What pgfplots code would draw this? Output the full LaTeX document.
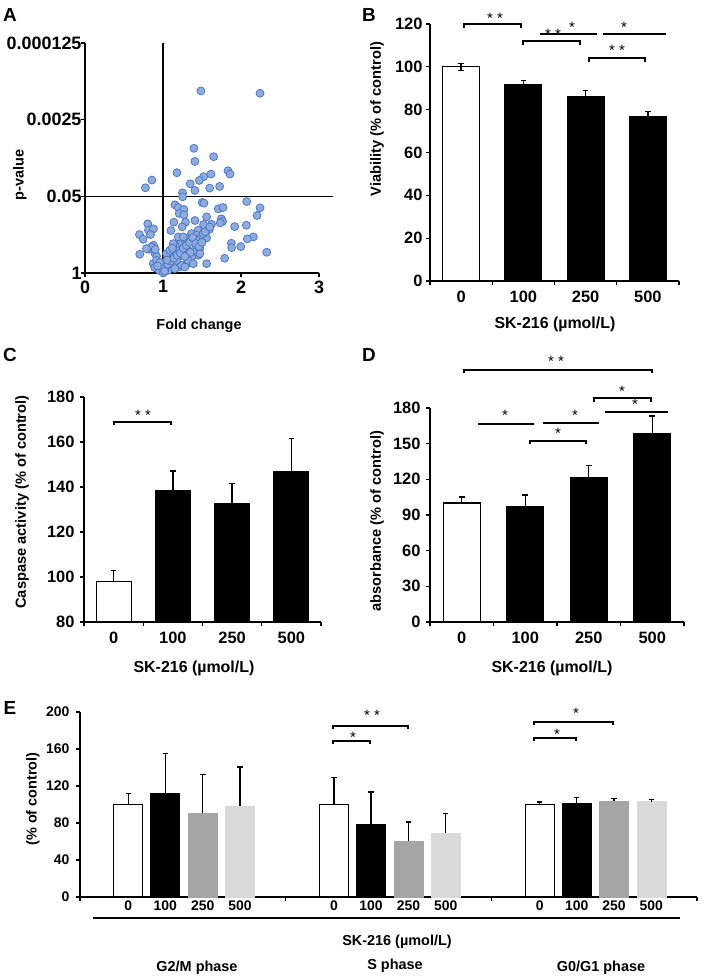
\documentclass[border=0pt]{standalone}
\usepackage{pgfplots}
\pgfplotsset{compat=1.18}
\usepackage{fontspec}
\setmainfont{Liberation Sans}
\definecolor{ptfill}{HTML}{8FAADC}
\definecolor{ptedge}{HTML}{4472C4}
\definecolor{midgray}{HTML}{A5A5A5}
\definecolor{ltgray}{HTML}{D9D9D9}
\newcommand{\fs}[1]{\fontsize{#1}{#1}\selectfont\bfseries}
\pgfplotsset{
 myax/.style={scale only axis, anchor=south west, axis x line*=bottom, axis y line*=left,
   axis line style={line width=1.2bp,-}, tick align=outside,
   tick style={black, line width=1.2bp}, major tick length=4bp,
   tick label style={font=\fs{16.5}}, /pgf/number format/assume math mode=true},
 wb/.style={ybar, bar shift=0pt, fill=white, draw=black, line width=1.2bp},
 bb/.style={ybar, bar shift=0pt, fill=black, draw=black, line width=1.2bp},
 gb/.style={ybar, bar shift=0pt, fill=midgray, draw=midgray, line width=0.4bp},
 lb/.style={ybar, bar shift=0pt, fill=ltgray, draw=ltgray, line width=0.4bp},
 eb/.style={error bars/.cd, y dir=#1, y explicit,
   error bar style={draw=black, line width=1.3bp},
   error mark options={rotate=90, draw=black, line width=1.3bp, mark size=2.8bp}},
}
\newcommand{\brk}[4]{\draw (#1,#3+#4) -- (#1,#3) -- (#2,#3) -- (#2,#3+#4);}
\newcommand{\st}[3]{\node[anchor=base, inner sep=0pt, font=\fontsize{15}{15}\selectfont] at (#1,#2+8.6) {#3};}
\begin{document}
\begin{tikzpicture}
\useasboundingbox (0,0) rectangle (709bp,-979bp);

% ---------------- A ----------------
\begin{axis}[myax, at={(85bp,-273bp)}, width=234bp, height=230bp,
  xmin=0, xmax=3, ymin=0, ymax=3.90309, clip=false,
  xtick={0,1,2,3}, ytick={0,1.30103,2.60206,3.90309},
  yticklabels={1,0.05,0.0025,0.000125},
  tick label style={font=\fs{18}}, yticklabel style={xshift=4bp}]
\addplot[only marks, mark=*, mark size=4bp, mark options={fill=ptfill, draw=ptedge, line width=0.7bp}] table {
x y
1.486 3.09
2.244 3.05
1.396 2.116
1.409 1.894
1.649 1.974
1.178 1.702
1.833 1.736
1.859 1.679
1.615 1.679
1.520 1.634
1.465 1.571
1.349 1.514
0.857 1.577
0.775 1.446
1.598 1.441
1.726 1.469
1.409 1.401
1.251 1.361
1.251 1.293
1.503 1.197
1.525 1.185
2.073 1.214
1.152 1.157
1.195 1.112
1.268 1.078
1.709 1.089
1.769 1.112
2.244 1.106
1.208 1.010
1.268 0.987
1.559 0.953
1.747 0.919
1.409 0.891
2.206 0.976
0.805 0.834
1.139 0.862
1.289 0.862
1.764 0.874
1.734 0.851
1.623 0.828
1.520 0.822
1.919 0.788
2.069 0.811
0.698 0.652
0.814 0.726
0.878 0.749
1.101 0.720
1.246 0.783
1.452 0.726
1.593 0.737
0.839 0.652
0.745 0.573
1.559 0.596
2.158 0.613
2.081 0.579
1.876 0.505
1.880 0.431
1.997 0.448
2.330 0.352
1.790 0.250
1.559 0.159
0.702 0.318
0.814 0.403
0.878 0.471
0.895 0.340
0.917 0.284
0.874 0.159
0.895 0.091
0.951 0.045
1.002 0.0
1.045 0.102
1.088 0.159
1.066 0.244
1.109 0.272
1.131 0.329
1.152 0.386
1.173 0.442
1.216 0.471
1.238 0.528
1.281 0.556
1.302 0.584
1.345 0.613
1.366 0.669
1.388 0.556
1.430 0.442
1.452 0.301
1.302 0.159
1.216 0.102
1.238 0.130
1.131 0.130
1.066 0.045
1.024 0.074
1.259 0.329
1.323 0.386
1.409 0.357
1.473 0.414
1.366 0.272
1.195 0.272
1.045 0.329
1.173 0.216
1.323 0.216
1.131 0.499
1.195 0.613
1.259 0.613
1.430 0.641
1.473 0.584
1.516 0.669
1.430 0.556
1.216 0.386
1.088 0.386
0.981 0.102
0.917 0.216
0.852 0.442
0.788 0.414
1.388 0.159
1.473 0.329
1.281 0.102
1.152 0.074
1.02 0.03
1.06 0.15
1.10 0.20
1.14 0.25
1.18 0.30
1.22 0.34
1.26 0.42
1.30 0.47
1.34 0.52
1.38 0.60
1.42 0.50
1.46 0.45
1.50 0.52
1.35 0.35
1.28 0.28
1.12 0.42
1.05 0.22
0.96 0.18
0.93 0.12
1.54 0.70
1.60 0.78
0.90 0.40
};
\addplot[black, line width=1.2bp] coordinates {(1,0) (1,3.90309)};
\addplot[black, line width=1.2bp] coordinates {(0,1.30103) (3.18,1.30103)};
\end{axis}

% ---------------- B ----------------
\begin{axis}[myax, at={(430bp,-281bp)}, width=249bp, height=257bp,
  xmin=-0.5, xmax=3.5, ymin=0, ymax=120, ytick={0,20,...,120},
  xtick={-0.5,0.5,1.5,2.5,3.5}, xticklabels={,,,,},
  extra x ticks={0,1,2,3}, extra x tick labels={0,100,250,500},
  extra x tick style={major tick length=0pt, tick label style={yshift=-6bp}},
  bar width=0.594]
\addplot[wb, eb=both] coordinates {(0,100) +- (0,1.7)};
\addplot[bb, eb=both] coordinates {(1,91.8) +- (0,1.7)};
\addplot[bb, eb=both] coordinates {(2,86.1) +- (0,3.0)};
\addplot[bb, eb=both] coordinates {(3,76.7) +- (0,2.4)};
\end{axis}

% ---------------- C ----------------
\begin{axis}[myax, at={(84bp,-622bp)}, width=237bp, height=225bp,
  xmin=-0.5, xmax=3.5, ymin=80, ymax=180, ytick={80,100,...,180},
  xtick={-0.5,0.5,1.5,2.5,3.5}, xticklabels={,,,,},
  extra x ticks={0,1,2,3}, extra x tick labels={0,100,250,500},
  extra x tick style={major tick length=0pt, tick label style={yshift=-6bp}},
  yticklabel style={xshift=-2bp}, bar width=0.59]
\addplot[wb, eb=plus] coordinates {(0,98.1) +- (0,4.9)};
\addplot[bb, eb=plus] coordinates {(1,138.4) +- (0,8.7)};
\addplot[bb, eb=plus] coordinates {(2,132.6) +- (0,9.0)};
\addplot[bb, eb=plus] coordinates {(3,146.8) +- (0,14.8)};
\end{axis}

% ---------------- D ----------------
\begin{axis}[myax, at={(430bp,-622bp)}, width=254bp, height=214bp,
  xmin=-0.5, xmax=3.5, ymin=0, ymax=180, ytick={0,30,...,180},
  xtick={-0.5,0.5,1.5,2.5,3.5}, xticklabels={,,,,},
  extra x ticks={0,1,2,3}, extra x tick labels={0,100,250,500},
  extra x tick style={major tick length=0pt, tick label style={yshift=-6bp}},
  yticklabel style={xshift=-2bp}, bar width=0.58]
\addplot[wb, eb=plus] coordinates {(0,100.1) +- (0,5.0)};
\addplot[bb, eb=plus] coordinates {(1,97.3) +- (0,9.5)};
\addplot[bb, eb=plus] coordinates {(2,121.7) +- (0,9.8)};
\addplot[bb, eb=plus] coordinates {(3,158.4) +- (0,14.9)};
\end{axis}

% ---------------- E ----------------
\begin{axis}[myax, at={(80bp,-897bp)}, width=617bp, height=185bp,
  xmin=0, xmax=3, ymin=0, ymax=200, ytick={0,40,...,200},
  tick label style={font=\fs{14}},
  xtick={0,1,2,3}, xticklabels={,,,},
  extra x ticks={0.235,0.415,0.597,0.778,1.235,1.415,1.597,1.778,2.235,2.415,2.597,2.778},
  extra x tick labels={0,100,250,500,0,100,250,500,0,100,250,500},
  extra x tick style={major tick length=0pt},
  yticklabel style={xshift=-3bp}, bar width=0.141]
% G2/M phase
\addplot[wb, eb=plus] coordinates {(0.235,100) +- (0,12.0)};
\addplot[bb, eb=plus] coordinates {(0.415,111.4) +- (0,43.6)};
\addplot[gb, eb=plus] coordinates {(0.597,90.8) +- (0,41.8)};
\addplot[lb, eb=plus] coordinates {(0.778,98.4) +- (0,42.1)};
% S phase
\addplot[wb, eb=plus] coordinates {(1.235,100) +- (0,29.5)};
\addplot[bb, eb=plus] coordinates {(1.415,77.8) +- (0,35.7)};
\addplot[gb, eb=plus] coordinates {(1.597,60.2) +- (0,20.9)};
\addplot[lb, eb=plus] coordinates {(1.778,69.5) +- (0,20.6)};
% G0/G1 phase
\addplot[wb, eb=plus] coordinates {(2.235,100) +- (0,2.8)};
\addplot[bb, eb=plus] coordinates {(2.415,101.3) +- (0,6.1)};
\addplot[gb, eb=plus] coordinates {(2.597,103.4) +- (0,2.9)};
\addplot[lb, eb=plus] coordinates {(2.778,103.1) +- (0,2.1)};
\end{axis}

% ---------------- annotations (pixel coordinates) ----------------
\begin{scope}[x=1bp, y=-1bp, line width=1.2bp]
% panel letters
\node[font=\fs{19}] at (10,15) {A};
\node[font=\fs{19}] at (369,15) {B};
\node[font=\fs{19}] at (10,355) {C};
\node[font=\fs{19}] at (369,355) {D};
\node[font=\fs{19}] at (10,708) {E};
% axis labels
\node[rotate=90, font=\fs{14.5}] at (20,175) {p-value};
\node[font=\fs{14.5}] at (199,326) {Fold change};
\node[rotate=90, font=\fs{14.7}] at (377,119) {Viability (\% of control)};
\node[font=\fs{16}] at (555,324) {SK-216 (µmol/L)};
\node[rotate=90, font=\fs{14.7}] at (22,502) {Caspase activity (\% of control)};
\node[font=\fs{16}] at (194,668) {SK-216 (µmol/L)};
\node[rotate=90, font=\fs{14.7}] at (377,521) {absorbance (\% of control)};
\node[font=\fs{16}] at (552,668) {SK-216 (µmol/L)};
\node[rotate=90, font=\fs{14.5}] at (33,799) {(\% of control)};
\draw (93,918) -- (680,918);
\node[font=\fs{14.5}] at (397,942) {SK-216 (µmol/L)};
\node[font=\fs{14.5}] at (197,968) {G2/M phase};
\node[font=\fs{14.5}] at (395,966) {S phase};
\node[font=\fs{14.5}] at (601,968) {G0/G1 phase};
% B significance
\brk{464}{521}{24}{4} \st{495}{15}{* *}
\brk{523}{580}{41}{4} \st{553}{31}{* *}
\draw (540,34) -- (597,34); \st{572}{24}{*}
\draw (603,34) -- (666,34); \st{624}{24}{*}
\brk{589}{645}{58}{4} \st{617}{47}{* *}
% C significance
\brk{114}{171}{422}{3} \st{143}{412}{* *}
% D significance
\brk{464}{652}{370}{3} \st{556}{358}{*\ *}
\brk{594}{651}{398}{4} \st{622}{388}{*}
\draw (605,412) -- (668,412); \st{635}{401}{*}
\draw (478,424) -- (534,424); \st{505}{412}{*}
\draw (543,423) -- (599,423); \st{575}{412}{*}
\brk{530}{586}{441}{3} \st{558}{430}{*}
% E significance
\brk{333}{408}{726}{3} \st{372}{712}{* *}
\brk{333}{370}{741}{3} \st{353}{734}{*}
\brk{534}{613}{722}{3} \st{576}{710}{*}
\brk{534}{576}{738}{3} \st{557}{731}{*}
\end{scope}
\end{tikzpicture}
\end{document}
